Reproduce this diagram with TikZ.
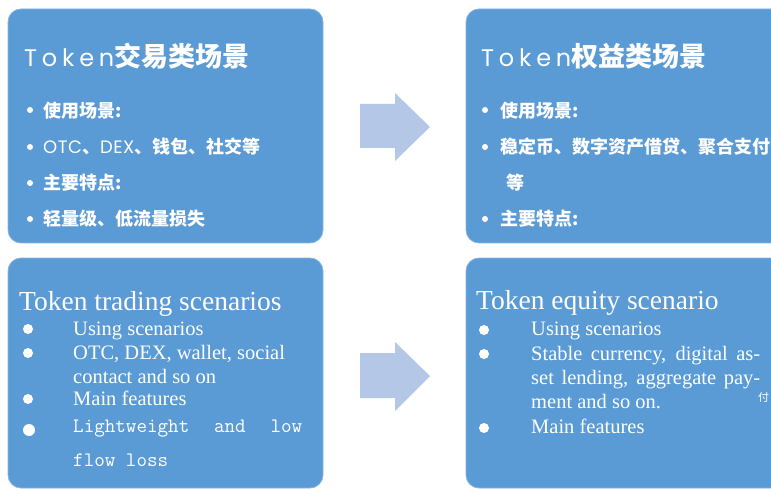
\documentclass[tikz,border=0pt]{standalone}
\usepackage{fontspec}
\setmainfont{Liberation Serif}
\newfontfamily\cjk{Noto Sans CJK SC}
\newfontfamily\geo[LetterSpace=20]{Poppins}
\newfontfamily\lat[LetterSpace=3]{Poppins}
\definecolor{boxblue}{HTML}{5B9BD5}
\definecolor{arrowblue}{HTML}{B4C7E7}
\tikzset{
  panel/.style={fill=boxblue, draw=boxblue!75!white, line width=0.8pt, rounded corners=13pt},
  bigarrow/.style={fill=arrowblue},
  txt/.style={text=white, inner sep=0pt, anchor=base west},
  zh/.style={text=white, inner sep=0pt, anchor=west, font=\cjk\bfseries\fontsize{18}{22}\selectfont},
  en/.style={txt, font=\fontsize{20.5}{24}\selectfont},
  mono/.style={txt, font=\ttfamily\fontsize{20.5}{24}\selectfont},
  dot/.style={fill=white},
}
\begin{document}
\begin{tikzpicture}[x=1pt, y=-1pt, line join=round]
\useasboundingbox (0,0) rectangle (771,489);
\clip (0,0) rectangle (771,489);
% panels
\draw[panel] (8,9) rectangle (323,243);
\draw[panel] (466,9) rectangle (800,243);
\draw[panel] (8,258) rectangle (323,488);
\draw[panel] (466,258) rectangle (800,488);
% arrows
\fill[bigarrow] (360,104) -- (395,104) -- (395,93) -- (430,127) -- (395,161) -- (395,148) -- (360,148) -- cycle;
\fill[bigarrow] (360,353) -- (395,353) -- (395,342) -- (430,376) -- (395,411) -- (395,398) -- (360,398) -- cycle;

% top left
\node[txt, font=\fontsize{24}{28}\selectfont] (t1) at (24,67) {\geo Token{\cjk\bfseries\fontsize{27}{30}\selectfont 交易类场景}};
\foreach \y in {110,147,183,219} \fill[dot] (30,\y) circle (3);
\node[zh] (u1) at (43,111) {使用场景:};
\node[zh] (o1) at (43,147) {{\lat\mdseries OTC}、{\lat\mdseries DEX}、钱包、社交等};
\node[zh] (f1) at (43,183) {主要特点:};
\node[zh] (l1) at (43,219) {轻量级、低流量损失};

% top right
\node[txt, font=\fontsize{24}{28}\selectfont] (t2) at (481,67) {\geo Token{\cjk\bfseries\fontsize{27}{30}\selectfont 权益类场景}};
\foreach \y in {110,147,219} \fill[dot] (485,\y) circle (3);
\node[zh] (u2) at (500,111) {使用场景:};
\node[zh] (s2) at (500,147) {稳定币、数字资产借贷、聚合支付};
\node[zh] (d2) at (506,183) {等};
\node[zh] (f2) at (500,219) {主要特点:};

% bottom left
\node[txt, font=\fontsize{27.5}{30}\selectfont] (t3) at (19,310) {Token trading scenarios};
\foreach \y in {329,353,399} \fill[dot] (28,\y) circle (5);
\fill[dot] (29,430) circle (6);
\node[en] (u3) at (73,335) {Using scenarios};
\node[en] (o3) at (73,359) {OTC, DEX, wallet, social};
\node[en] (o3b) at (73,383) {contact and so on};
\node[en] (m3) at (73,405) {Main features};
\node[mono] (l3) at (73,432) {\hbox to 229pt{Lightweight\hfil and\hfil low}};
\node[mono] (l3b) at (73,466) {flow loss};

% bottom right
\node[txt, font=\fontsize{27.5}{30}\selectfont] (t4) at (476,309) {Token equity scenario};
\foreach \y in {330,354,428} \fill[dot] (484,\y) circle (5);
\node[en] (u4) at (531,335) {Using scenarios};
\node[en] (s4) at (531,360) {\makebox[229pt][s]{Stable currency, digital as-}};
\node[en] (s4b) at (531,384) {\makebox[229pt][s]{set lending, aggregate pay-}};
\node[en] (s4c) at (531,408) {ment and so on.};
\node[en] (m4) at (531,433) {Main features};
\node[zh, font=\cjk\fontsize{11}{13}\selectfont] (fr) at (758,397) {付};
\end{tikzpicture}
\end{document}
